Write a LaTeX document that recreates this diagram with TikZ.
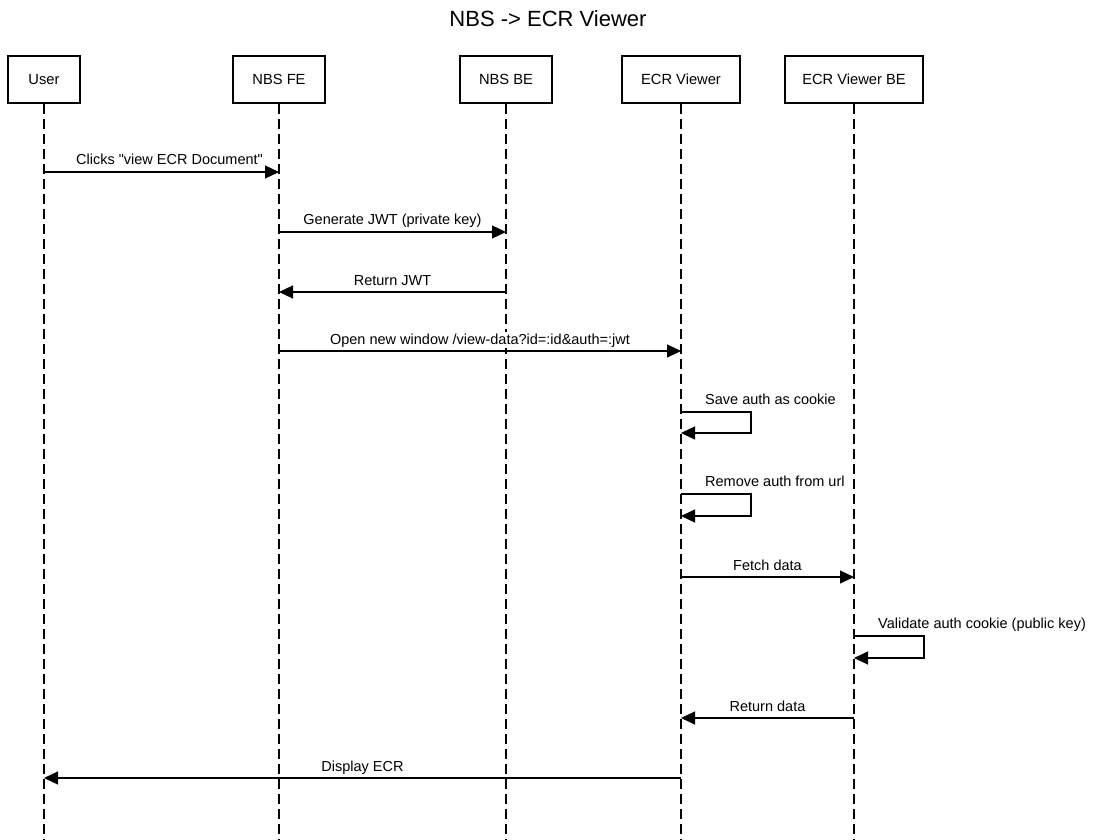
\documentclass[tikz,border=0pt]{standalone}
\usepackage{fontspec}
\setmainfont{Liberation Sans}
\newfontfamily\plainsans{Liberation Sans}
\usetikzlibrary{arrows.meta}
\begin{document}
\begin{tikzpicture}[x=1pt,y=-1pt,
  actor/.style={draw, line width=2.2pt, minimum height=47pt, inner sep=0pt, font=\fontsize{14.7}{16}\selectfont},
  life/.style={line width=1.3pt, dash pattern=on 10pt off 5pt},
  msg/.style={line width=1.1pt, -{Triangle[length=14pt,width=13pt]}},
  lbl/.style={font=\fontsize{14.5}{16}\selectfont, inner sep=1pt, fill=white}]
\useasboundingbox (0,0) rectangle (1096,840);
\node[font=\fontsize{22}{25}\selectfont] (title) at (548,19) {NBS -> ECR Viewer};
% actors
\node[actor, minimum width=72pt] (user) at (44,79.5) {User};
\node[actor, minimum width=92pt] (nbsfe) at (279,79.5) {NBS FE};
\node[actor, minimum width=92pt] (nbsbe) at (506,79.5) {NBS BE};
\node[actor, minimum width=118pt] (ecr) at (681,79.5) {ECR Viewer};
\node[actor, minimum width=138pt] (ecrbe) at (854,79.5) {ECR Viewer BE};
% lifelines
\foreach \a in {user,nbsfe,nbsbe,ecr,ecrbe}{
  \coordinate (\a end) at (\a.south |- 0,840);
  \draw[life] (\a.south) -- (\a end);
}
% messages
\draw[msg] (user.south |- 0,172) -- node[lbl, anchor=base, yshift=7pt, xshift=8pt]{\plainsans Clicks "view ECR Document"} (nbsfe.south |- 0,172);
\draw[msg] (nbsfe.south |- 0,232) -- node[lbl, anchor=base, yshift=7pt]{Generate JWT (private key)} (nbsbe.south |- 0,232);
\draw[msg] (nbsbe.south |- 0,292) -- node[lbl, anchor=base, yshift=7pt]{Return JWT} (nbsfe.south |- 0,292);
\draw[msg] (nbsfe.south |- 0,351) -- node[lbl, anchor=base, yshift=7pt]{Open new window /view-data?id=:id\&auth=:jwt} (ecr.south |- 0,351);
% self loops
\draw[msg] (ecr.south |- 0,412) -- ++(70,0) -- ++(0,21) -- (ecr.south |- 0,433);
\node[lbl, anchor=base west] (l5) at ([xshift=23pt, yshift=8pt]ecr.south |- 0,412) {Save auth as cookie};
\draw[msg] (ecr.south |- 0,494) -- ++(70,0) -- ++(0,22) -- (ecr.south |- 0,516);
\node[lbl, anchor=base west] (l6) at ([xshift=23pt, yshift=8pt]ecr.south |- 0,494) {Remove auth from url};
\draw[msg] (ecr.south |- 0,577) -- node[lbl, anchor=base, yshift=7pt]{Fetch data} (ecrbe.south |- 0,577);
\draw[msg] (ecrbe.south |- 0,636) -- ++(70,0) -- ++(0,22) -- (ecrbe.south |- 0,658);
\node[lbl, anchor=base west] (l8) at ([xshift=23pt, yshift=8pt]ecrbe.south |- 0,636) {Validate auth cookie (public key)};
\draw[msg] (ecrbe.south |- 0,718) -- node[lbl, anchor=base, yshift=7pt]{Return data} (ecr.south |- 0,718);
\draw[msg] (ecr.south |- 0,778) -- node[lbl, anchor=base, yshift=7pt]{Display ECR} (user.south |- 0,778);
\end{tikzpicture}
\end{document}
